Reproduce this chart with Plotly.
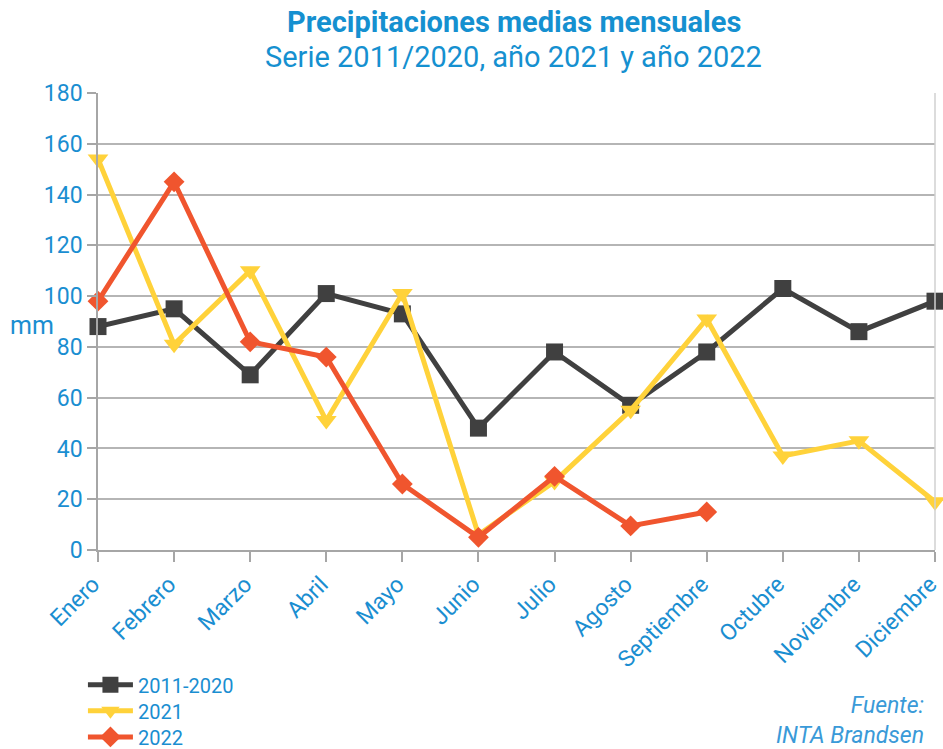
import plotly.graph_objects as go

months = ["Enero", "Febrero", "Marzo", "Abril", "Mayo", "Junio", "Julio",
          "Agosto", "Septiembre", "Octubre", "Noviembre", "Diciembre"]
serie_2011_2020 = [88, 95, 69, 101, 93, 48, 78, 57, 78, 103, 86, 98]
anio_2021 = [154, 81, 110, 51, 101, 6, 27, 55, 91, 37, 43, 19]
anio_2022 = [98, 145, 82, 76, 26, 5, 29, 9.5, 15]
y_ticks = [0, 20, 40, 60, 80, 100, 120, 140, 160, 180]

BLUE = "#1a8ed1"
FONT = "Roboto"

fig = go.Figure()
fig.add_trace(go.Scatter(
    x=months, y=serie_2011_2020, name="2011-2020", mode="lines+markers",
    line=dict(color="#404040", width=5),
    marker=dict(symbol="square", size=17, color="#404040"),
    cliponaxis=False, legend="legend"))
fig.add_trace(go.Scatter(
    x=months, y=anio_2021, name="2021", mode="lines+markers",
    line=dict(color="#ffd23a", width=5),
    marker=dict(symbol="triangle-down", size=18, color="#ffd23a"),
    cliponaxis=False, legend="legend2"))
fig.add_trace(go.Scatter(
    x=months[:len(anio_2022)], y=anio_2022, name="2022", mode="lines+markers",
    line=dict(color="#f0552e", width=5),
    marker=dict(symbol="diamond", size=16, color="#f0552e"),
    cliponaxis=False, legend="legend3"))

def leg(y):
    return dict(x=-0.018, xanchor="left", y=y, yanchor="middle",
                orientation="v", font=dict(family=FONT, size=20, color=BLUE),
                itemwidth=45, bgcolor="rgba(0,0,0,0)")

fig.update_layout(
    width=943, height=749,
    margin=dict(l=98, r=8, t=93, b=199, autoexpand=False),
    paper_bgcolor="white", plot_bgcolor="white",
    font=dict(family=FONT, color=BLUE),
    showlegend=True,
    legend=leg(-0.295), legend2=leg(-0.352), legend3=leg(-0.409),
    xaxis=dict(
        type="category", range=[0, 11], showgrid=False, automargin=False,
        showline=True, linecolor="#a6a6a6", linewidth=1.5,
        ticks="outside", ticklen=10, tickcolor="#a6a6a6", tickwidth=1.5,
        tickangle=-45, tickfont=dict(family=FONT, size=23, color=BLUE),
        ticklabelshift=-5, zeroline=False),
    yaxis=dict(
        range=[0, 180], tickvals=y_ticks, showgrid=True, automargin=False,
        gridcolor="#b5b5b5", gridwidth=1.5,
        showline=True, linecolor="#a6a6a6", linewidth=1.5,
        ticks="outside", ticklen=9, tickcolor="#a6a6a6", tickwidth=1.5,
        tickfont=dict(family=FONT, size=23, color=BLUE),
        zeroline=False),
    shapes=[dict(type="line", xref="paper", yref="paper", x0=1, x1=1, y0=0, y1=1,
                 line=dict(color="#d0d0d0", width=1.5))],
    annotations=[
        dict(text="<b>Precipitaciones medias mensuales</b>", xref="paper", yref="paper",
             x=0.497, y=1.155, xanchor="center", yanchor="middle", showarrow=False,
             font=dict(family=FONT, size=29, color="#1590d0")),
        dict(text="Serie 2011/2020, año 2021 y año 2022", xref="paper", yref="paper",
             x=0.497, y=1.078, xanchor="center", yanchor="middle", showarrow=False,
             font=dict(family=FONT, size=29, color="#1590d0")),
        dict(text="mm", xref="paper", yref="paper", x=-0.079, y=0.492,
             xanchor="center", yanchor="middle", showarrow=False,
             font=dict(family=FONT, size=25, color=BLUE)),
        dict(text="<i>Fuente:</i><br><i>INTA Brandsen</i>", xref="paper", yref="paper",
             x=0.989, y=-0.372, xanchor="right", yanchor="middle", align="right",
             showarrow=False, font=dict(family=FONT, size=23, color="#3a9ad8")),
    ],
)

fig.write_html("out.html", config={"displayModeBar": False},
               post_script="document.body.style.margin='0';")
